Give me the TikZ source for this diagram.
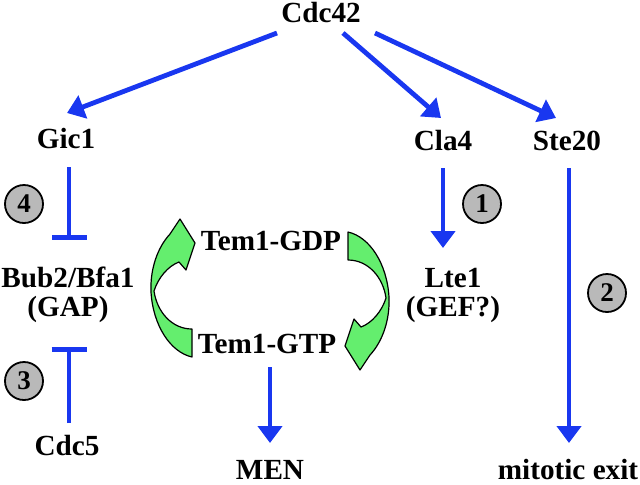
\documentclass[tikz,border=0pt]{standalone}
\usepackage{fontspec}
\setmainfont{Liberation Serif}
\usetikzlibrary{arrows.meta,calc}
\definecolor{arrblue}{RGB}{25,55,240}
\definecolor{cyc}{RGB}{100,238,110}
\definecolor{numgray}{RGB}{185,185,185}
\begin{document}
\begin{tikzpicture}[x=0.5pt,y=-0.5pt,
  lbl/.style={font=\fontsize{14.6pt}{17pt}\selectfont\bfseries, inner sep=0pt, anchor=base},
  act/.style={draw=arrblue, line width=2.4pt, -{Triangle[length=8.5pt,width=12pt]}},
  inh/.style={draw=arrblue, line width=2.4pt, -{Bar[width=17.5pt]}},
  num/.style={circle, draw=black, line width=0.9pt, fill=numgray, minimum size=19pt, inner sep=0pt, font=\fontsize{13.5pt}{16pt}\selectfont\bfseries},
  cycarrow/.style={fill=cyc, draw=black, line width=0.6pt, line join=round}]
\useasboundingbox (0,0) rectangle (640,484);

% cycle arrows
\foreach \r in {0,180}{
  \path[cycarrow, rotate around={\r:(270,294.5)}]
    (192,329) .. controls (172,329) and (157,312) .. (154,291)
    .. controls (158,278) and (168,266) .. (179,262)
    -- (186,270) -- (195,243) -- (180,219) -- (170,234)
    .. controls (157,248) and (150,270) .. (151,292)
    .. controls (153,325) and (170,352) .. (192,357) -- cycle;
}

% labels
\node[lbl] (cdc42) at (321,22) {Cdc42};
\node[lbl] (gic1) at (66,148) {Gic1};
\node[lbl] (cla4) at (443,150) {Cla4};
\node[lbl] (ste20) at (567,150) {Ste20};
\node[lbl] (bub2) at (68,287) {Bub2/Bfa1};
\node[lbl] (gap) at (68,316) {(GAP)};
\node[lbl] (lte1) at (453,287) {Lte1};
\node[lbl] (gef) at (453,316) {(GEF?)};
\node[lbl] (gdp) at (271,250) {Tem1-GDP};
\node[lbl] (gtp) at (267,353) {Tem1-GTP};
\node[lbl] (cdc5) at (67,455) {Cdc5};
\node[lbl] (men) at (270,479) {MEN};
\node[lbl] (mitexit) at (568,479) {mitotic exit};

% numbered circles
\node[num] (n4) at (24,204) {4};
\node[num] (n1) at (482,204) {1};
\node[num] (n2) at (607,293) {2};
\node[num] (n3) at (24,381) {3};

% connectors
\draw[act] ($(cdc42.base)+(-44,11)$) -- ($(gic1.base)+(1,-35)$);
\draw[act] ($(cdc42.base)+(22,11)$) -- ($(cla4.base)+(-2,-32)$);
\draw[act] ($(cdc42.base)+(54,11)$) -- ($(ste20.base)+(-11,-32)$);
\draw[inh] ($(gic1.base)+(3,19)$) -- ($(bub2.base)+(1,-47)$);
\draw[act] ($(cla4.base)+(0,18)$) -- ($(lte1.base)+(-10,-39)$);
\draw[act] ($(ste20.base)+(2,18)$) -- ($(mitexit.base)+(1,-36)$);
\draw[inh] ($(cdc5.base)+(2,-32)$) -- ($(gap.base)+(1,31)$);
\draw[act] ($(gtp.base)+(3,14)$) -- ($(men.base)+(0,-36)$);
\end{tikzpicture}
\end{document}
